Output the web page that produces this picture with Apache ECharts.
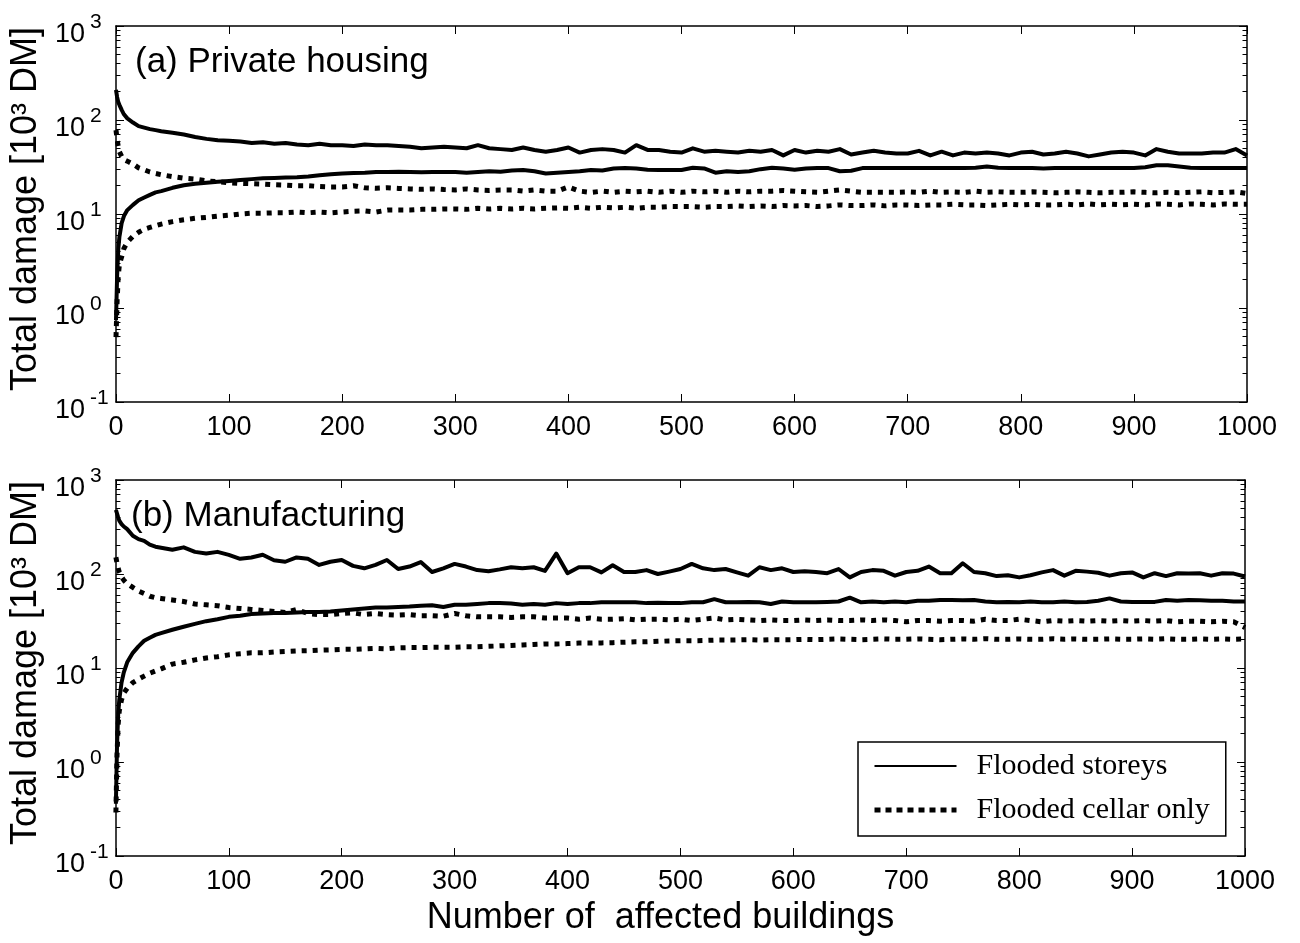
<!DOCTYPE html>
<html><head><meta charset="utf-8">
<script src="https://cdn.jsdelivr.net/npm/echarts@6/dist/echarts.min.js"></script>
<style>html,body{margin:0;padding:0;background:#fff}#c{width:1300px;height:943px}</style>
</head><body><div id="c"></div>
<script>
// x positions (number of affected buildings)
const xs = [0,1,2,3,5,7,10,15,20,25,30,35,40,
  50,60,70,80,90,
  100,110,120,130,140,150,160,170,180,190,
  200,210,220,230,240,250,260,270,280,290,
  300,310,320,330,340,350,360,370,380,390,
  400,410,420,430,440,450,460,470,480,490,
  500,510,520,530,540,550,560,570,580,590,
  600,610,620,630,640,650,660,670,680,690,
  700,710,720,730,740,750,760,770,780,790,
  800,810,820,830,840,850,860,870,880,890,
  900,910,920,930,940,950,960,970,980,990,
  1000];
const xTicks = [0,100,200,300,400,500,600,700,800,900,1000];
const yTicks = [0.1,1,10,100,1000];

// (a) Private housing
const aStoreysUpper = [209,175,155,145,128,115,104,94,86,83,80,78,76,
  73,70,66,63,61,
  60,59,57,58,56,57,55,54,56,54,
  54,53,55,54,54,53,52,50,51,52,
  51,50,54,50,49,48,51,48,46,48,
  51,45,48,49,48,45,54,48,48,46,
  45,50,46,47,46,45,47,46,48,42,
  48,45,47,46,49,43,45,47,45,44,
  44,47,42,46,42,45,44,45,44,42,
  45,46,43,44,46,44,41,43,45,46,
  45,42,49,46,44,44,44,45,45,49,
  42];
const aStoreysLower = [0.74,2.2,4.2,5.7,8,9.5,11,12.5,14,15,16,17,17.5,
  19,20.2,21,21.5,22,
  22.5,23,23.5,24,24.2,24.5,24.6,25,25.8,26.5,
  27,27.3,27.5,28,28,28.2,28,27.8,28,28,
  28,27.5,28,28.5,28.2,29,29.4,28.5,27,27.5,
  28,28.5,29.4,29,30.5,30.8,30.5,29.5,29.4,29.4,
  29.4,31,30.5,27.5,28.5,28,28.5,30,31,30.5,
  29.5,30.5,30.8,30.8,28.5,28.8,30.8,30.8,30.8,30.8,
  30.8,30.8,30.8,30.8,30.8,30.8,31,32,31,30.8,
  30.8,30.8,30.5,30.8,30.8,30.8,30.8,30.8,30.8,30.8,
  30.8,31.5,33,33,32,31,30.8,30.8,30.8,30.8,
  30.8];
const aCellarUpper = [78,62,52,46,41,38,36.5,34,31,29.5,28,27,26.2,
  25,24,23.5,22.5,22,
  21.5,21.2,21,20.8,20.5,20.3,20,20,19.6,19.4,
  19.4,20,19,18.8,19,18.7,18.5,18.3,18.5,18.2,
  18,18.5,18,17.8,18,18,17.5,18,17.5,17.5,
  19.4,17.5,17,17.5,17,17.5,17.2,17.5,17,17.5,
  17,17.5,17.2,17.5,17,17.5,17.2,17.5,17.5,17.8,
  17.5,17.2,17,17.5,18,17.5,17,17,17,17,
  17.2,17,17.5,17,17.2,17,17.5,17,17.2,17,
  17,17.2,17,16.8,17,17.2,17,16.8,17,17,
  17.2,17,16.8,17,16.8,17,17.2,16.8,17,17.2,
  16.5];
const aCellarLower = [0.49,1.2,2.2,2.9,3.5,4.3,5.0,5.8,6.4,6.9,7.2,7.5,7.8,
  8.3,8.7,9.0,9.2,9.5,
  9.7,10,10.2,10.2,10.3,10.3,10.5,10.3,10.5,10.3,
  10.5,10.7,10.8,10.5,11,11,11,11.2,11.2,11.3,
  11.3,11.2,11.5,11.3,11.5,11.3,11.5,11.3,11.5,11.6,
  11.5,11.8,11.5,11.8,11.6,11.8,11.5,11.8,11.8,12,
  12,12,11.8,12,12,12.2,12,12.2,12,12.3,
  12.2,12.3,12,12.2,12.5,12.3,12.3,12.5,12.2,12.5,
  12.5,12.3,12.5,12.5,12.7,12.5,12.5,12.3,12.5,12.7,
  12.5,12.7,12.5,12.5,12.7,12.5,12.8,12.5,12.7,12.5,
  12.7,12.5,12.8,12.7,12.5,12.8,12.7,12.5,12.8,12.7,
  12.7];

// (b) Manufacturing
const bStoreysUpper = [480,440,400,370,340,320,300,255,235,225,205,195,190,
  181,192,172,165,172,
  160,145,150,160,140,135,150,145,125,135,
  141,122,115,125,141,113,120,134,105,115,
  128,120,110,107,112,118,115,118,108,165,
  102,118,118,104,124,105,105,110,100,106,
  113,128,115,110,113,104,96,118,110,115,
  105,107,105,102,113,92,105,110,108,96,
  105,108,120,102,102,130,105,102,95,97,
  92,97,104,110,96,108,106,103,96,102,
  104,92,102,95,102,101,102,96,102,101,
  94];
const bStoreysLower = [0.36,1.5,3.2,4.6,7,9,11.5,14.5,17,19.5,21,22.5,23.5,
  25.5,27.5,29.5,31.5,33,
  35,36,37.5,38,38.5,38.5,39,39.5,39.5,40,
  41,42,43,44,44,44.5,45,46,46.5,44.5,
  47,47,48,49,49,48.5,47,48,47,49,
  48,49,49,50,50,50,50,49,49.5,49,
  49,50,50,54,50,50,50.5,50,48,51,
  50,50,50,50.5,51,56,50,51,50,51,
  50,52,52,53,53,52.5,53,51,50,50.5,
  50,51,50,50,51,50,50.5,52,55,51,
  50.5,50.5,50.5,53,52,53,52.5,52,52,51,
  51];
const bCellarUpper = [151,130,115,105,93,86,79,72,66,62,58,56,55,
  53,51,48,47,46,
  44,43,42,41,40,39,42,38,37,37,
  38,38.5,37,38,37,36.5,37,36,36,35.5,
  38,36,35,35,35,34.5,35,35,34,34,
  34,33,34,33,33,33.5,32.5,33,33,32.5,
  33,32,33,34,32.5,33,32.5,32,32.5,32,
  32,32.5,32,32.5,32,32,32.5,32,32.5,32,
  31,32,32,31.5,32,32,31.5,33,32,32,
  33,32,31,32,31.5,32,31.5,32,31.5,32,
  31.5,32,31.5,32,31,31.5,31.5,31,31.5,31,
  27];
const bCellarLower = [0.29,1.2,2.5,3.5,4.6,5.4,6.1,7,7.6,8.2,8.8,9.3,9.8,
  11,11.5,12.2,12.8,13.2,
  13.8,14.2,14.5,14.5,14.8,15,15.2,15.3,15.5,15.6,
  15.8,15.8,16,16.2,16,16.4,16.5,16.5,16.6,16.6,
  16.6,16.8,16.8,17,17.2,17.4,17.6,17.8,18,18,
  18.2,18.4,18.4,18.5,18.6,18.8,19,19,19.2,19.4,
  19.5,19.5,19.6,19.8,19.8,19.9,20,19.8,20,20,
  20,20.2,20,20.2,20.4,20.2,20,20.2,20.4,20.2,
  20.2,20.4,20.2,20,20.2,20.4,20.2,20.5,20.2,20.2,
  20.4,20.2,20.2,20.5,20.2,20.4,20.2,20.2,20.4,20.2,
  20.2,20.4,20.2,20.5,20.2,20.2,20.4,20.2,20.4,20.2,
  20.4];

const panelTitles = ['(a) Private housing', '(b) Manufacturing'];
const yName = 'Total damage [10\u00b3 DM]';
const xName = 'Number of  affected buildings';
const legendNames = ['Flooded storeys', 'Flooded cellar only'];

// minor log tick values (2..9 in each decade)
const minorTickValues = [];
for (let d = 0; d < yTicks.length - 1; d++) {
  for (let k = 2; k <= 9; k++) minorTickValues.push(+(k * yTicks[d]).toPrecision(3));
}

const FONT = 'Liberation Sans';
const grids = [
  {left: 116, top: 26, width: 1131, height: 376},
  {left: 114, top: 480, width: 1131, height: 376}
];

const xAxes = [], yAxes = [], series = [];
grids.forEach((g, i) => {
  const common = {
    gridIndex: i, type: 'value', min: xTicks[0], max: xTicks[xTicks.length - 1], interval: 100,
    axisLine: {show: true, onZero: false, lineStyle: {color: '#000', width: 1.5}},
    axisTick: {show: true, inside: true, length: 8, lineStyle: {color: '#000', width: 1}},
    splitLine: {show: false}
  };
  xAxes.push(Object.assign({}, common, {
    position: 'bottom',
    axisLabel: {show: true, color: '#000', fontSize: 27, fontFamily: FONT, margin: 12,
      formatter: v => String(v)},
    name: i === 1 ? xName : '',
    nameLocation: 'middle', nameGap: 44,
    nameTextStyle: {color: '#000', fontSize: 36, fontFamily: FONT, padding: [0, 40, 0, 0]}
  }));
  xAxes.push(Object.assign({}, common, {position: 'top', axisLabel: {show: false}}));
  const ycommon = {
    gridIndex: i, type: 'log', logBase: 10, min: yTicks[0], max: yTicks[yTicks.length - 1],
    axisLine: {show: true, onZero: false, lineStyle: {color: '#000', width: 1.5}},
    axisTick: {show: true, inside: true, length: 8, lineStyle: {color: '#000', width: 1}},
    splitLine: {show: false}
  };
  // main left axis (index 4i)
  yAxes.push(Object.assign({}, ycommon, {
    position: 'left',
    axisLabel: {
      show: true, align: 'left', margin: 61, padding: [8, 0, 0, 0],
      formatter: v => '{b|10}{e|' + Math.round(Math.log10(v)) + '}',
      rich: {
        b: {fontSize: 27, fontFamily: FONT, color: '#000', lineHeight: 36, verticalAlign: 'bottom'},
        e: {fontSize: 21, fontFamily: FONT, color: '#000', lineHeight: 20, verticalAlign: 'top', padding: [0, 0, 0, 5]}
      }
    },
    name: yName, nameLocation: 'middle', nameGap: 70,
    nameTextStyle: {color: '#000', fontSize: 36, fontFamily: FONT, padding: [0, 0, 0, 10]}
  }));
  // right mirror axis
  yAxes.push(Object.assign({}, ycommon, {position: 'right', axisLabel: {show: false}}));
  // minor tick overlays (left and right)
  ['left', 'right'].forEach(pos => {
    yAxes.push({
      gridIndex: i, type: 'log', logBase: 10, min: yTicks[0], max: yTicks[yTicks.length - 1],
      position: pos, offset: 0,
      axisLine: {show: false, onZero: false}, axisLabel: {show: false}, splitLine: {show: false},
      axisTick: {show: true, inside: true, length: 4.5, customValues: minorTickValues,
        lineStyle: {color: '#000', width: 1}}
    });
  });
});

function mk(name, arr, gi, dotted) {
  return {
    type: 'line', name: name, xAxisIndex: gi * 2, yAxisIndex: gi * 4,
    data: xs.map((x, k) => [x, arr[k]]),
    symbol: 'none', showSymbol: false, smooth: false, animation: false,
    lineStyle: dotted ? {color: '#000', width: 5, type: [5, 6], cap: 'butt'} : {color: '#000', width: 4, join: 'round'},
    itemStyle: {color: '#000'}, z: 3, silent: true
  };
}
series.push(mk(legendNames[0], aStoreysUpper, 0, false));
series.push(mk(legendNames[0], aStoreysLower, 0, false));
series.push(mk(legendNames[1], aCellarUpper, 0, true));
series.push(mk(legendNames[1], aCellarLower, 0, true));
series.push(mk(legendNames[0], bStoreysUpper, 1, false));
series.push(mk(legendNames[0], bStoreysLower, 1, false));
series.push(mk(legendNames[1], bCellarUpper, 1, true));
series.push(mk(legendNames[1], bCellarLower, 1, true));

const chart = echarts.init(document.getElementById('c'), null, {renderer: 'canvas'});
chart.setOption({
  animation: false,
  backgroundColor: '#fff',
  textStyle: {fontFamily: FONT},
  title: [
    {text: panelTitles[0], left: 130, top: 40, textStyle: {fontSize: 35, fontWeight: 'normal', color: '#000', fontFamily: FONT}},
    {text: panelTitles[1], left: 126, top: 494, textStyle: {fontSize: 35, fontWeight: 'normal', color: '#000', fontFamily: FONT}}
  ],
  legend: {
    orient: 'vertical', left: 858, top: 742,
    data: [
      {name: legendNames[0], lineStyle: {width: 2, type: 'solid', color: '#000'}},
      {name: legendNames[1], lineStyle: {width: 5, type: [6, 5], color: '#000'}}
    ],
    itemWidth: 82, itemHeight: 14, itemGap: 14,
    itemStyle: {color: 'rgba(0,0,0,0)', borderWidth: 0, opacity: 0},
    formatter: n => '{t|' + n + '}',
    textStyle: {color: '#000', rich: {t: {fontFamily: 'Liberation Serif', fontSize: 30, color: '#000', padding: [0, 0, 0, 15]}}},
    borderColor: '#000', borderWidth: 1.5, backgroundColor: '#fff',
    padding: [9, 16, 11, 14], selectedMode: false
  },
  grid: grids,
  xAxis: xAxes,
  yAxis: yAxes,
  series: series
});
</script></body></html>
